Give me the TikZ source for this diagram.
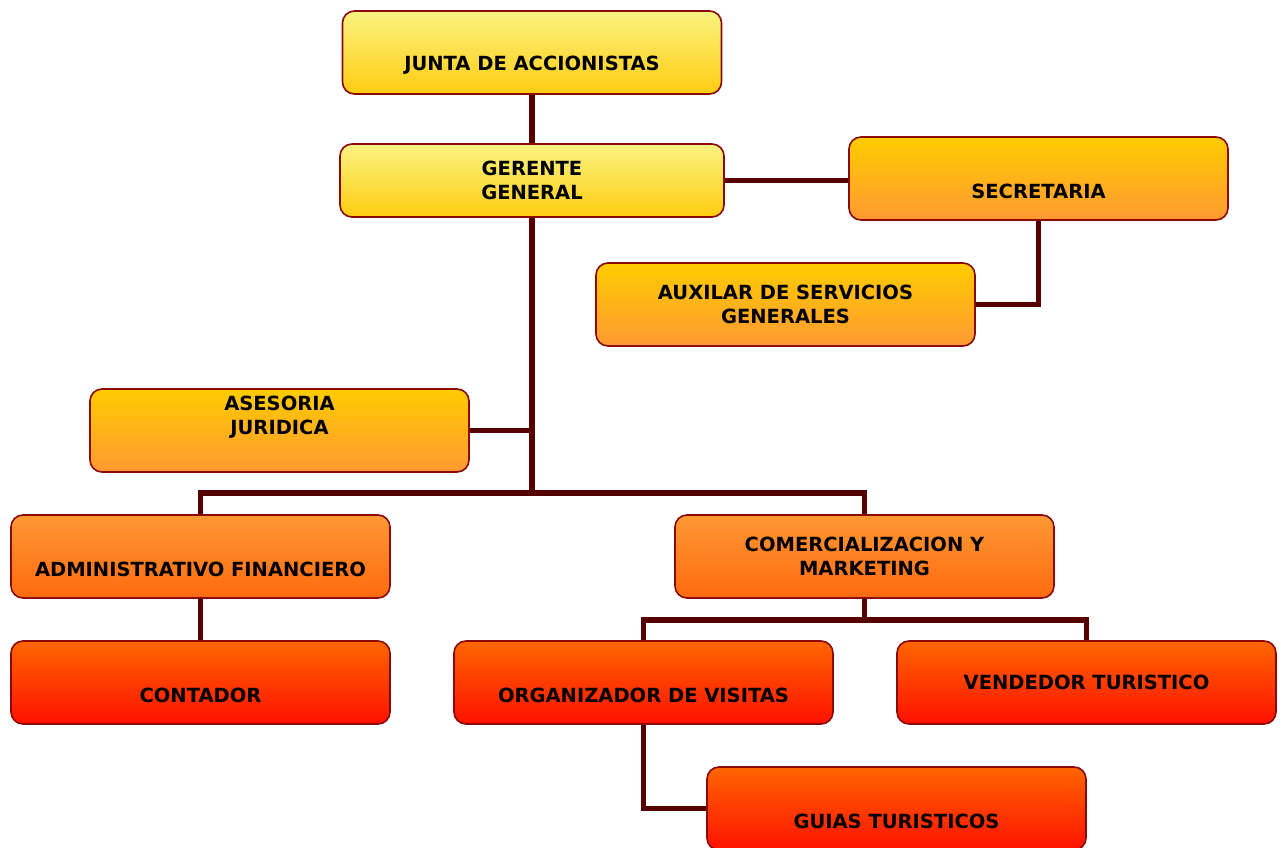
\documentclass[tikz,border=0pt]{standalone}
\usepackage{fontspec}
\setmainfont{DejaVu Sans}
\usepackage{tikz}
\usetikzlibrary{positioning}
\definecolor{linea}{HTML}{560000}
\definecolor{borde}{HTML}{8A0A0A}
\definecolor{amarA}{HTML}{FAF382}
\definecolor{amarB}{HTML}{FFCC10}
\definecolor{narA}{HTML}{FFCC00}
\definecolor{narB}{HTML}{FF9933}
\definecolor{nar2A}{HTML}{FF9933}
\definecolor{nar2B}{HTML}{FF6A10}
\definecolor{rojA}{HTML}{FF6600}
\definecolor{rojB}{HTML}{FF1100}

\begin{document}
\begin{tikzpicture}[x=1pt,y=-1pt,
   cargo/.style={draw=borde,line width=1.6pt,rounded corners=12pt,
     minimum width=379pt,minimum height=83pt,align=center,
     font=\fontsize{19.5}{23.5}\selectfont\bfseries},
   amarillo/.style={cargo,top color=amarA,bottom color=amarB},
   naranja/.style={cargo,top color=narA,bottom color=narB},
   naranja2/.style={cargo,top color=nar2A,bottom color=nar2B},
   rojo/.style={cargo,top color=rojA,bottom color=rojB},
   enlace/.style={draw=linea,line width=5.5pt}]
   \useasboundingbox (0,0) rectangle (1285,848);
   \coordinate (hub) at (532,493);
   \coordinate (rama) at (864.5,620);

   \node[amarillo] (junta) at (532,52.5) {\strut\\JUNTA DE ACCIONISTAS};
   \node[amarillo,minimum width=384pt,minimum height=73pt] (gerente) at (532,180.5) {GERENTE\\GENERAL};
   \node[naranja] (secre) at (1038.5,178.5) {\strut\\SECRETARIA};
   \node[naranja] (auxi) at (785.5,304.5) {AUXILAR DE SERVICIOS\\GENERALES};
   \node[naranja] (asesoria) at (279.5,430.5) {ASESORIA\\JURIDICA\\\strut};
   \node[naranja2] (admin) at (200.5,556.5) {\strut\\ADMINISTRATIVO FINANCIERO};
   \node[naranja2] (comer) at (864.5,556.5) {COMERCIALIZACION Y\\MARKETING};
   \node[rojo] (conta) at (200.5,682.5) {\strut\\CONTADOR};
   \node[rojo] (organ) at (643.5,682.5) {\strut\\ORGANIZADOR DE VISITAS};
   \node[rojo] (vende) at (1086.5,682.5) {VENDEDOR TURISTICO};
   \node[rojo] (guias) at (896.5,808.5) {\strut\\GUIAS TURISTICOS};

   % lineas de mando
   \path[enlace] (junta.south) -- (gerente.north);
   \path[enlace] (gerente.east) -- (gerente.east -| secre.west);
   \path[enlace] (secre.south) |- (auxi.east);
   \path[enlace] (gerente.south) -- (hub);
   \path[enlace] (asesoria.east) -- (asesoria.east -| hub);
   \path[enlace] (admin.north) |- (hub) -| (comer.north);
   \path[enlace] (admin.south) -- (conta.north);
   \path[enlace] (comer.south) -- (rama);
   \path[enlace] (organ.north) |- (rama) -| (vende.north);
   \path[enlace] (organ.south) |- (guias.west);
\end{tikzpicture}
\end{document}
